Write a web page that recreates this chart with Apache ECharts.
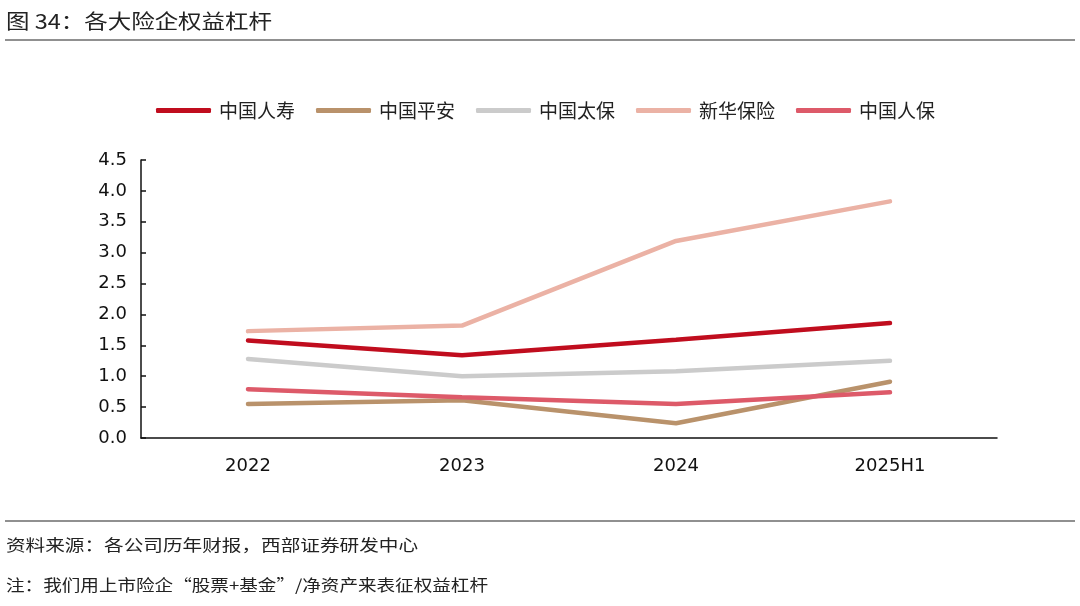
<!DOCTYPE html>
<html><head><meta charset="utf-8">
<script src="https://cdn.jsdelivr.net/npm/echarts@6/dist/echarts.min.js"></script>
<style>html,body{margin:0;padding:0;background:#fff}#c{width:1080px;height:606px}</style>
</head><body><div id="c"></div>
<script>
const categories = ['2022','2023','2024','2025H1'];
const seriesNames = ['中国人寿','中国平安','中国太保','新华保险','中国人保'];
const chinaLife = [1.58, 1.34, 1.59, 1.86];
const pingAn = [0.55, 0.61, 0.24, 0.91];
const cpic = [1.28, 1.00, 1.08, 1.25];
const newChinaLife = [1.73, 1.82, 3.19, 3.83];
const picc = [0.79, 0.66, 0.55, 0.74];
const yTicks = [0, 0.5, 1.0, 1.5, 2.0, 2.5, 3.0, 3.5, 4.0, 4.5];
const titleText = '图 34：各大险企权益杠杆';
const sourceText = '资料来源：各公司历年财报，西部证券研发中心';
const noteText = '注：我们用上市险企“股票+基金”/净资产来表征权益杠杆';

const colors = ['#C00D1E','#B9926B','#CBCBCB','#EBB2A5','#DD5A69'];
const values = [chinaLife, pingAn, cpic, newChinaLife, picc];

const cjkName = '"Noto Sans CJK SC"';
const mctx = document.createElement('canvas').getContext('2d');
function fitText(text, size, x, y, targetW) {
  const font = size + 'px ' + cjkName;
  mctx.font = font;
  const w = mctx.measureText(text).width;
  return {type: 'text', x: x, y: y, scaleX: targetW / w, scaleY: 1,
    style: {text: text, font: font, fill: '#222', textVerticalAlign: 'middle', textAlign: 'left'}};
}

const chart = echarts.init(document.getElementById('c'));
chart.setOption({
  animation: false,
  color: colors,
  legend: {
    top: 96, left: 151,
    itemWidth: 55, itemHeight: 5, itemGap: 21,
    icon: 'roundRect',
    textStyle: {fontFamily: cjkName + ', sans-serif', fontSize: 19, color: '#222', padding: [0, 0, 0, 3]},
    data: seriesNames
  },
  graphic: [
    fitText(titleText, 20, 6, 21, 266),
    {type: 'line', shape: {x1: 5, y1: 40, x2: 1075, y2: 40}, style: {stroke: '#222', lineWidth: 1.2}},
    {type: 'line', shape: {x1: 5, y1: 521, x2: 1075, y2: 521}, style: {stroke: '#222', lineWidth: 1.2}},
    fitText(sourceText, 16, 6, 545, 412),
    fitText(noteText, 16, 6, 585, 482)
  ],
  grid: {left: 141, right: 83, top: 160, bottom: 168},
  xAxis: {
    type: 'category', data: categories, boundaryGap: true,
    axisLine: {lineStyle: {color: '#111', width: 1.5}},
    axisTick: {inside: true, length: 6, lineStyle: {color: '#111', width: 1.5}},
    axisLabel: {margin: 19, fontFamily: 'DejaVu Sans', fontSize: 18, color: '#111'}
  },
  yAxis: {
    type: 'value', min: yTicks[0], max: yTicks[yTicks.length-1], interval: 0.5,
    splitLine: {show: false},
    axisLine: {show: true, lineStyle: {color: '#111', width: 1.5}},
    axisTick: {show: true, inside: true, length: 5, lineStyle: {color: '#111', width: 1.5}},
    axisLabel: {margin: 14, fontFamily: 'DejaVu Sans', fontSize: 18, color: '#111',
      formatter: v => v.toFixed(1)}
  },
  series: seriesNames.map((n, i) => ({
    name: n, type: 'line', data: values[i], symbol: 'none',
    lineStyle: {width: 4.5, cap: 'round', color: colors[i]}
  }))
});
</script></body></html>
